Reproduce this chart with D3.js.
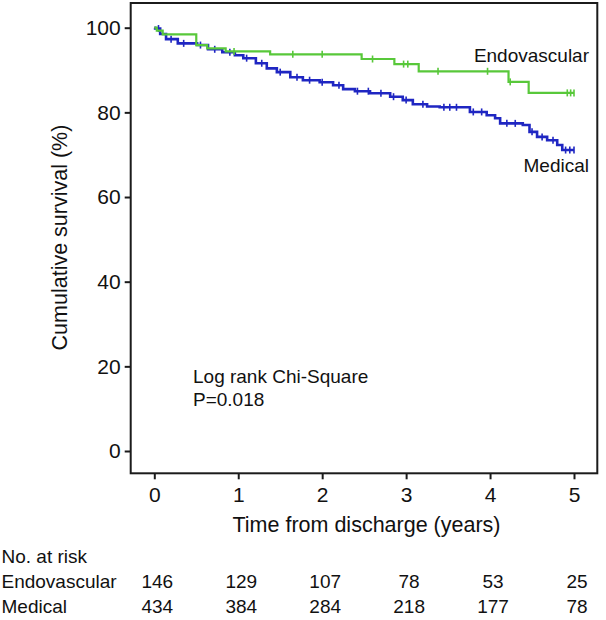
<!DOCTYPE html>
<html>
<head>
<meta charset="utf-8">
<script src="https://cdn.jsdelivr.net/npm/d3@7"></script>
<style>
  html, body { margin: 0; padding: 0; background: #fff; }
  svg { display: block; font-family: "Liberation Sans", Arial, Helvetica, sans-serif; }
</style>
</head>
<body>
<svg id="chart" width="606" height="620"></svg>
<script>
// ---- data ----
const xTicks = [0, 1, 2, 3, 4, 5];
const yTicks = [0, 20, 40, 60, 80, 100];
const groups = ["Endovascular", "Medical"];
const riskYears = [0, 1, 2, 3, 4, 5];
const endoAtRisk = [146, 129, 107, 78, 53, 25];
const medAtRisk = [434, 384, 284, 218, 177, 78];

// Kaplan–Meier step points (years, survival %)
const endoTimes = [0, 0.03, 0.10, 0.50, 0.63, 0.85, 1.38, 2.47, 2.86, 3.15, 4.22, 4.46, 5.0];
const endoSurv  = [100, 99.3, 98.4, 95.9, 95.1, 94.4, 93.7, 92.6, 91.4, 89.7, 87.2, 84.6, 84.6];
const endoCensor = [0.95, 1.65, 2.0, 2.6, 2.97, 3.02, 3.38, 3.97, 4.24, 4.92, 4.96, 5.0];

const medTimes = [0, 0.01, 0.07, 0.14, 0.28, 0.51, 0.64, 0.81, 0.96, 1.06, 1.21, 1.34, 1.46, 1.62, 1.77, 1.97,
                  2.13, 2.25, 2.39, 2.57, 2.81, 2.96, 3.08, 3.25, 3.40, 3.76, 3.96, 4.06, 4.12, 4.39, 4.47,
                  4.56, 4.68, 4.80, 4.86, 5.0];
const medSurv  = [100, 99.8, 98.5, 97.3, 96.3, 95.9, 94.9, 94.2, 93.5, 92.8, 91.6, 90.4, 89.5, 88.3, 87.6, 87.1,
                  86.4, 85.5, 85.0, 84.5, 83.7, 82.9, 81.9, 81.4, 81.2, 80.1, 79.3, 78.6, 77.4, 77.0, 75.4,
                  74.2, 73.4, 72.3, 71.1, 71.1];
const medCensor = [0.05, 0.2, 0.35, 0.55, 0.72, 0.9, 1.1, 1.28, 1.5, 1.7, 1.85, 2.0, 2.2, 2.42, 2.55, 2.7,
                   2.85, 3.0, 3.2, 3.45, 3.52, 3.6, 3.8, 3.9, 4.2, 4.3, 4.5, 4.62, 4.75, 4.9, 4.95, 5.0];

// ---- layout ----
const frame = { left: 130.7, right: 597.3, top: 3, bottom: 473.3 };
const svg = d3.select("#chart");
const x = d3.scaleLinear().domain([0, 5]).range([154.3, 574]);
const y = d3.scaleLinear().domain([0, 100]).range([451, 27.7]);

const colors = { Endovascular: "#58c83a", Medical: "#1f26c2" };
const axisFont = 21, tableFont = 19;

// frame
svg.append("rect")
  .attr("x", frame.left).attr("y", frame.top)
  .attr("width", frame.right - frame.left).attr("height", frame.bottom - frame.top)
  .attr("fill", "none").attr("stroke", "#1b1b1b").attr("stroke-width", 2);

// axes
const yAxis = svg.append("g").attr("transform", `translate(${frame.left},0)`)
  .call(d3.axisLeft(y).tickValues(yTicks).tickSize(6).tickPadding(4).tickFormat(d3.format("d")));
const xAxis = svg.append("g").attr("transform", `translate(0,${frame.bottom})`)
  .call(d3.axisBottom(x).tickValues(xTicks).tickSize(6).tickPadding(8).tickFormat(d3.format("d")));
[yAxis, xAxis].forEach(g => {
  g.select(".domain").remove();
  g.selectAll(".tick line").attr("stroke", "#1b1b1b").attr("stroke-width", 2);
  g.selectAll(".tick text").attr("fill", "#111").style("font-size", axisFont + "px")
    .style("font-family", "'Liberation Sans', Arial, sans-serif");
});

// axis titles
svg.append("text")
  .attr("transform", `translate(67,237.5) rotate(-90)`)
  .attr("text-anchor", "middle").attr("fill", "#111")
  .style("font-size", "21.5px").text("Cumulative survival (%)");
svg.append("text")
  .attr("x", 366.5).attr("y", 532).attr("text-anchor", "middle").attr("fill", "#111")
  .style("font-size", "21.5px").text("Time from discharge (years)");

// curves
const line = d3.line().x(d => x(d[0])).y(d => y(d[1])).curve(d3.curveStepAfter);
function stepValue(times, surv, t) {
  let v = surv[0];
  for (let i = 0; i < times.length; i++) { if (times[i] <= t) v = surv[i]; }
  return v;
}
const seriesData = [
  { name: "Medical", times: medTimes, surv: medSurv, censor: medCensor, width: 2.6 },
  { name: "Endovascular", times: endoTimes, surv: endoSurv, censor: endoCensor, width: 2.2 }
];
seriesData.forEach(s => {
  const pts = s.times.map((t, i) => [t, s.surv[i]]);
  svg.append("path").datum(pts)
    .attr("d", line).attr("fill", "none")
    .attr("stroke", colors[s.name]).attr("stroke-width", s.width)
    .attr("stroke-linejoin", "miter");
  svg.append("g").selectAll("line").data(s.censor).join("line")
    .attr("x1", d => x(d)).attr("x2", d => x(d))
    .attr("y1", d => y(stepValue(s.times, s.surv, d)) - 3.5)
    .attr("y2", d => y(stepValue(s.times, s.surv, d)) + 3.5)
    .attr("stroke", colors[s.name]).attr("stroke-width", 1.6);
});

// curve labels
svg.append("text").attr("x", 589).attr("y", 61.7).attr("text-anchor", "end").attr("fill", "#111")
  .style("font-size", tableFont + "px").text(groups[0]);
svg.append("text").attr("x", 589).attr("y", 172.3).attr("text-anchor", "end").attr("fill", "#111")
  .style("font-size", tableFont + "px").text(groups[1]);

// annotation
svg.append("text").attr("x", 193).attr("y", 383).attr("fill", "#111")
  .style("font-size", tableFont + "px").text("Log rank Chi-Square");
svg.append("text").attr("x", 193).attr("y", 406).attr("fill", "#111")
  .style("font-size", tableFont + "px").text("P=0.018");

// risk table
svg.append("text").attr("x", 1.5).attr("y", 563).attr("fill", "#111")
  .style("font-size", tableFont + "px").text("No. at risk");
const rows = [
  { label: groups[0], values: endoAtRisk, yPos: 588 },
  { label: groups[1], values: medAtRisk, yPos: 613 }
];
rows.forEach(r => {
  svg.append("text").attr("x", 1.5).attr("y", r.yPos).attr("fill", "#111")
    .style("font-size", tableFont + "px").text(r.label);
  svg.append("g").selectAll("text").data(r.values).join("text")
    .attr("x", (d, i) => x(riskYears[i]) + 3).attr("y", r.yPos)
    .attr("text-anchor", "middle").attr("fill", "#111")
    .style("font-size", tableFont + "px").text(d => d);
});
</script>
</body>
</html>
